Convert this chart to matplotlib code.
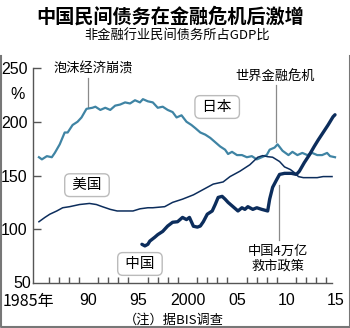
import matplotlib.pyplot as plt
from matplotlib.lines import Line2D

plt.rcParams['font.family'] = ['Noto Sans CJK SC', 'DejaVu Sans']

# 日本
jp_year = [1985.0, 1985.3, 1985.8, 1986.3, 1986.6, 1987.1, 1987.6, 1987.9, 1988.4, 1988.9,
           1989.3, 1989.8, 1990.4, 1990.7, 1991.2, 1991.7, 1992.2, 1992.7, 1993.2, 1993.7,
           1994.2, 1994.7, 1995.2, 1995.5, 1996.0, 1996.5, 1997.0, 1997.5, 1998.0, 1998.5,
           1998.9, 1999.4, 1999.9, 2000.4, 2000.8, 2001.3, 2001.8, 2002.3, 2002.8, 2003.3,
           2003.8, 2004.1, 2004.5, 2005.0, 2005.5, 2006.0, 2006.5, 2007.0, 2007.5, 2008.0,
           2008.3, 2008.8, 2009.1, 2009.6, 2010.2, 2010.6, 2011.1, 2011.6, 2012.1, 2012.6,
           2013.1, 2013.6, 2014.1, 2014.4, 2014.9]
jp_val = [167, 165, 168, 167, 171, 179, 190, 190, 197, 200,
          204, 212, 213, 214, 211, 213, 211, 215, 216, 218,
          217, 220, 218, 221, 219, 218, 213, 214, 211, 209,
          204, 206, 200, 197, 194, 190, 188, 185, 181, 177,
          174, 170, 172, 169, 169, 167, 168, 165, 167, 169,
          174, 176, 179, 173, 169, 172, 169, 171, 169, 171,
          169, 169, 171, 168, 167]

# 美国
us_year = [1985.0, 1985.6, 1986.1, 1986.8, 1987.4, 1988.1, 1989.1, 1990.1, 1990.8, 1991.4,
           1992.2, 1992.9, 1993.7, 1994.5, 1995.2, 1996.0, 1996.5, 1997.7, 1998.5, 1999.5,
           2000.6, 2001.6, 2002.6, 2003.6, 2004.3, 2005.3, 2006.3, 2007.1, 2007.6, 2008.1,
           2008.6, 2009.3, 2009.8, 2010.4, 2010.9, 2011.2, 2011.7, 2012.4, 2013.1, 2013.7,
           2014.6]
us_val = [107, 111, 114, 117, 120, 121, 123, 124, 123, 121,
          118.5, 117, 117, 117, 119, 120, 120, 121, 125, 128,
          132, 137, 142, 144, 149, 154, 160, 167, 168.5, 167.5,
          167, 163, 158, 155.5, 152, 149, 148, 148, 148, 149,
          149]

# 中国
cn_year = [1995.4, 1995.7, 1996.0, 1996.2, 1996.7, 1997.0, 1997.5, 1998.0, 1998.5, 1999.0,
           1999.5, 1999.9, 2000.2, 2000.6, 2001.0, 2001.3, 2001.6, 2002.0, 2002.5, 2002.8,
           2003.1, 2003.5, 2003.8, 2004.1, 2004.6, 2005.1, 2005.5, 2005.8, 2006.1, 2006.6,
           2007.0, 2007.5, 2008.1, 2008.3, 2008.6, 2009.0, 2009.3, 2009.8, 2010.5, 2011.0,
           2011.3, 2011.8, 2012.3, 2012.8, 2013.2, 2013.7, 2014.2, 2014.7, 2014.9]
cn_val = [86, 84.5, 86, 89, 92.6, 95, 98, 103, 106.5, 107,
          111, 109, 111, 102.8, 102, 103, 107, 114, 117, 123,
          129.6, 130.6, 128, 125, 121, 117, 120, 118.5, 121, 118.5,
          120, 118.5, 117, 128, 139, 146, 151, 152, 152, 151,
          154, 162, 169, 177, 183, 190, 197, 204.6, 206.5]

major_years = [1990, 1995, 2000, 2005, 2010, 2015]
major_labels = ['90', '95', '2000', '05', '10', '15']
y_ticks = [100, 150, 200, 250]

jp_color = '#3f84a4'
dark = '#0c2d5c'
lead = '#8a8a8a'
num_font = ['Liberation Sans Narrow', 'Liberation Sans', 'DejaVu Sans']

W, H = 350, 328
fig = plt.figure(figsize=(W / 100, H / 100), dpi=100)
ax = fig.add_axes([33 / W, 1 - 283 / H, 303 / W, 215 / H])
ax.set_xlim(1984.4, 2015.0)
ax.set_ylim(50, 250)

ax.plot(jp_year, jp_val, color=jp_color, lw=1.6, clip_on=False, zorder=3)
ax.plot(us_year, us_val, color=dark, lw=1.1, clip_on=False, zorder=3)
ax.plot(cn_year, cn_val, color=dark, lw=2.4, clip_on=False, zorder=4,
        solid_joinstyle='round', solid_capstyle='round')

for s in ['top', 'right']:
    ax.spines[s].set_visible(False)
for s in ['left', 'bottom']:
    ax.spines[s].set_color('#555555')
    ax.spines[s].set_linewidth(1.0)
ax.spines['bottom'].set_bounds(1984.4, 2014.6)

ax.set_yticks(y_ticks)
ax.set_yticklabels([str(v) for v in y_ticks], family=num_font, fontsize=11.5)
ax.tick_params(axis='y', direction='in', length=6, width=1.0, color='#555555', pad=4)
ax.set_xticks(major_years)
ax.set_xticklabels(major_labels, family=num_font, fontsize=11.5)
ax.set_xticks(range(1986, 2015), minor=True)
ax.tick_params(axis='x', which='major', length=0, pad=7.5)
ax.tick_params(axis='x', which='minor', direction='in', length=4, width=1.0, color='#555555')
ax.text(-0.005, 0.0, '50', transform=ax.transAxes, ha='right', va='center',
        family=num_font, fontsize=11.5)
ax.text(-0.05, 0.875, '%', transform=ax.transAxes, ha='center', va='center',
        family=num_font, fontsize=11.5)
ax.annotate('1985年', xy=(1983.95, 50), xytext=(0, -7.5), textcoords='offset points',
            ha='center', va='top', fontsize=11.5,
            family=['Liberation Sans Narrow', 'Noto Sans CJK SC'], annotation_clip=False)

# leaders and notes
ax.plot([1990.0, 1990.0], [241, 214], color=lead, lw=0.9)
ax.text(1990.5, 249, '泡沫经济崩溃', ha='center', va='center', fontsize=9.5)
ax.plot([2008.9, 2008.9], [234, 181], color=lead, lw=0.9)
ax.text(2008.9, 241, '世界金融危机', ha='center', va='center', fontsize=9.5)
ax.plot([2009.2, 2009.2], [141, 90], color=lead, lw=0.9, zorder=2)
ax.text(2009.1, 72.5, '中国4万亿\n救市政策', ha='center', va='center', fontsize=9.5,
        linespacing=1.25)

box = dict(boxstyle='round,pad=0.3,rounding_size=0.35', fc='white', ec='#bbbbbb', lw=1.0)
ax.text(2003.0, 213.7, ' 日本 ', ha='center', va='center', fontsize=10.5, bbox=box, zorder=5)
ax.text(1989.85, 141, ' 美国 ', ha='center', va='center', fontsize=10.5, bbox=box, zorder=5)
ax.text(1995.2, 67.7, ' 中国 ', ha='center', va='center', fontsize=10.5, bbox=box, zorder=5)

# titles and source
fig.text(170 / W, 1 - 17 / H, '中国民间债务在金融危机后激增', ha='center', va='center',
         fontsize=13.8, fontweight='bold')
fig.text(177 / W, 1 - 36 / H, '非金融行业民间债务所占GDP比', ha='center', va='center',
         fontsize=9.5)
fig.text(174 / W, 1 - 320 / H, '（注）据BIS调查', ha='center', va='center', fontsize=9.5)

# outer frame
fx = [0.5 / W, 0.5 / W, 1 - 0.5 / W, 1 - 0.5 / W]
fy = [1 - 56 / H, 1.5 / H, 1.5 / H, 1 - 56 / H]
fig.add_artist(Line2D(fx, fy, color='#777777', lw=1.5, transform=fig.transFigure))

fig.savefig('out.png', dpi=100)
